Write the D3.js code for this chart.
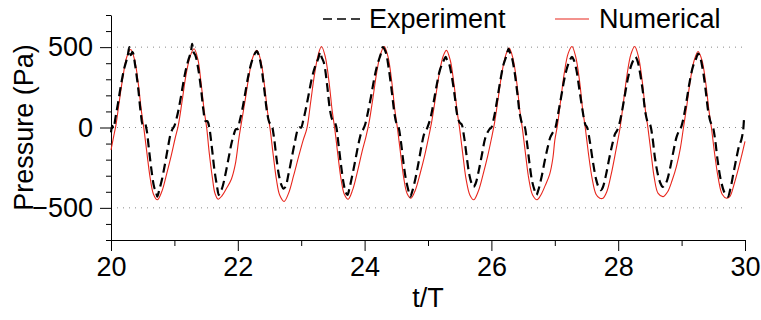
<!DOCTYPE html>
<html>
  <head>
    <meta charset="utf-8" />
    <script src="https://d3js.org/d3.v7.min.js"></script>
    <title>Pressure vs t/T</title>
    <style>
      body {
        margin: 0px;
        background: #fff;
      }
      .domain {
        stroke: #000;
      }
      .tick line {
        stroke: #000;
      }
      .tick text {
        fill: #000;
        font-size: 27px;
        font-family: Helvetica, Arial, "Liberation Sans", sans-serif;
      }
      .axis-label,
      .legend-text {
        fill: #000;
        font-size: 27px;
        font-family: Helvetica, Arial, "Liberation Sans", sans-serif;
      }
    </style>
  </head>
  <body>
    <svg width="761" height="320"></svg>
    <script>
      // numerical result, [t/T, pressure in Pa]
      const numerical = [
        [20.00,-140],[20.04,-60],[20.08,20],[20.13,160],[20.19,320],[20.25,440],[20.31,485],[20.37,425],[20.43,275],[20.48,100],[20.52,-10],[20.57,-170],[20.62,-320],[20.67,-415],[20.73,-450],[20.80,-400],[20.88,-285],[20.95,-175],
        [21.01,-70],[21.06,10],[21.12,160],[21.18,320],[21.25,445],[21.31,490],[21.37,425],[21.42,280],[21.47,105],[21.51,-5],[21.55,-160],[21.60,-315],[21.64,-410],[21.69,-446],[21.75,-425],[21.82,-380],[21.90,-320],[21.96,-230],
        [22.02,-60],[22.07,60],[22.12,180],[22.18,330],[22.24,440],[22.30,480],[22.36,420],[22.42,265],[22.47,95],[22.51,-10],[22.56,-175],[22.61,-325],[22.66,-420],[22.73,-460],[22.80,-410],[22.88,-300],[22.96,-180],
        [23.03,-80],[23.09,-5],[23.15,160],[23.21,330],[23.27,455],[23.32,504],[23.38,440],[23.44,280],[23.49,100],[23.53,-10],[23.58,-175],[23.63,-325],[23.68,-415],[23.74,-446],[23.81,-390],[23.89,-270],[23.96,-150],
        [24.02,-60],[24.07,30],[24.13,180],[24.19,340],[24.25,455],[24.31,504],[24.37,440],[24.43,280],[24.48,100],[24.52,-10],[24.57,-170],[24.62,-320],[24.67,-410],[24.73,-440],[24.80,-390],[24.88,-280],[24.95,-170],
        [25.01,-60],[25.06,40],[25.12,190],[25.18,340],[25.24,445],[25.29,480],[25.35,420],[25.41,270],[25.46,100],[25.50,-10],[25.55,-170],[25.60,-320],[25.66,-420],[25.72,-450],[25.79,-400],[25.87,-290],[25.94,-180],
        [26.00,-70],[26.05,30],[26.11,190],[26.17,350],[26.23,455],[26.28,494],[26.34,430],[26.40,280],[26.45,100],[26.49,-10],[26.54,-170],[26.59,-320],[26.65,-420],[26.72,-450],[26.78,-420],[26.85,-360],[26.92,-290],[26.97,-190],
        [27.00,-80],[27.04,10],[27.09,160],[27.15,340],[27.21,460],[27.27,504],[27.33,440],[27.39,290],[27.44,110],[27.48,0],[27.53,-160],[27.59,-320],[27.65,-415],[27.71,-440],[27.76,-440],[27.82,-400],[27.89,-290],[27.96,-150],
        [28.03,0],[28.08,150],[28.14,330],[28.20,455],[28.26,504],[28.32,440],[28.38,285],[28.43,105],[28.47,-5],[28.52,-165],[28.57,-315],[28.63,-410],[28.71,-430],[28.78,-400],[28.85,-330],[28.92,-240],[28.98,-130],
        [29.03,0],[29.08,130],[29.14,300],[29.20,420],[29.26,473],[29.32,420],[29.38,280],[29.43,110],[29.47,0],[29.52,-160],[29.58,-320],[29.64,-415],[29.71,-440],[29.76,-430],[29.83,-350],[29.90,-250],[29.95,-170],[30.00,-87]
      ];

      // measured pressure, [t/T, pressure in Pa]
      const experiment = [
        [20.00,-30],[20.02,10],[20.04,-5],[20.07,60],[20.11,150],[20.16,270],[20.21,370],[20.26,440],[20.29,500],[20.31,450],[20.34,470],[20.38,390],[20.43,240],[20.47,90],[20.50,20],[20.53,30],[20.56,-10],[20.60,-140],[20.64,-270],[20.68,-370],[20.71,-400],[20.73,-430],[20.76,-390],[20.80,-330],[20.85,-230],[20.90,-120],[20.94,-40],[20.97,-10],
        [21.00,10],[21.03,50],[21.07,120],[21.12,230],[21.17,340],[21.22,420],[21.26,470],[21.28,520],[21.30,470],[21.33,450],[21.37,380],[21.42,240],[21.46,100],[21.49,40],[21.52,40],[21.55,0],[21.59,-120],[21.63,-260],[21.67,-360],[21.70,-420],[21.72,-400],[21.75,-380],[21.80,-300],[21.85,-200],[21.90,-100],[21.94,-40],[21.97,-10],
        [22.00,-10],[22.03,40],[22.07,110],[22.12,220],[22.17,330],[22.22,410],[22.27,460],[22.30,475],[22.33,450],[22.37,380],[22.42,230],[22.46,100],[22.50,30],[22.53,20],[22.57,-60],[22.61,-190],[22.65,-300],[22.69,-360],[22.72,-380],[22.75,-370],[22.80,-290],[22.85,-190],[22.90,-90],[22.94,-20],[22.97,0],
        [23.00,0],[23.03,40],[23.07,110],[23.12,210],[23.17,310],[23.22,380],[23.27,430],[23.30,470],[23.32,440],[23.36,400],[23.41,260],[23.45,120],[23.49,50],[23.52,40],[23.55,10],[23.59,-110],[23.63,-240],[23.67,-350],[23.70,-400],[23.73,-420],[23.76,-380],[23.81,-290],[23.86,-190],[23.91,-90],[23.95,-30],[23.98,-10],
        [24.01,20],[24.05,90],[24.10,190],[24.15,300],[24.20,390],[24.25,450],[24.29,500],[24.31,490],[24.34,460],[24.38,370],[24.43,220],[24.47,90],[24.50,30],[24.53,10],[24.57,-80],[24.61,-210],[24.65,-320],[24.69,-390],[24.72,-430],[24.75,-400],[24.80,-320],[24.85,-220],[24.90,-110],[24.94,-40],[24.97,-20],
        [25.00,10],[25.04,60],[25.09,160],[25.14,270],[25.19,360],[25.24,410],[25.28,440],[25.30,420],[25.33,400],[25.37,330],[25.42,200],[25.46,80],[25.50,30],[25.53,20],[25.57,-60],[25.61,-180],[25.65,-290],[25.69,-350],[25.72,-370],[25.75,-350],[25.80,-270],[25.85,-170],[25.90,-70],[25.94,-30],[25.97,-10],
        [26.00,0],[26.04,60],[26.09,170],[26.14,290],[26.19,390],[26.24,450],[26.27,490],[26.29,470],[26.32,440],[26.36,360],[26.41,210],[26.45,80],[26.49,20],[26.52,10],[26.56,-90],[26.60,-220],[26.64,-330],[26.68,-390],[26.71,-420],[26.74,-390],[26.79,-310],[26.84,-210],[26.89,-120],[26.93,-60],[26.97,-30],
        [27.01,0],[27.05,80],[27.10,190],[27.15,300],[27.20,380],[27.24,420],[27.27,440],[27.30,420],[27.34,360],[27.39,230],[27.44,100],[27.48,20],[27.51,0],[27.55,-80],[27.60,-210],[27.65,-320],[27.69,-370],[27.73,-390],[27.76,-370],[27.81,-290],[27.86,-190],[27.91,-100],[27.95,-40],[27.98,-20],
        [28.01,10],[28.05,80],[28.10,190],[28.15,300],[28.20,380],[28.24,420],[28.27,440],[28.30,420],[28.34,350],[28.39,220],[28.43,90],[28.47,30],[28.50,20],[28.54,-60],[28.58,-190],[28.63,-300],[28.67,-350],[28.70,-370],[28.73,-360],[28.77,-330],[28.82,-250],[28.87,-150],[28.92,-60],[28.96,-20],[28.99,0],
        [29.03,60],[29.08,170],[29.13,290],[29.18,380],[29.23,430],[29.26,460],[29.29,440],[29.33,370],[29.38,230],[29.42,100],[29.46,30],[29.49,10],[29.53,-80],[29.57,-210],[29.62,-330],[29.67,-400],[29.70,-420],[29.73,-430],[29.77,-380],[29.82,-280],[29.87,-180],[29.91,-110],[29.94,-80],[29.97,-20],[29.99,60],[30.00,50]
      ];

      const xMajorTicks = [20, 22, 24, 26, 28, 30];
      const xMinorTicks = [21, 23, 25, 27, 29];
      const yMajorTicks = [-500, 0, 500];
      const yMinorTicks = [-700, -600, -400, -300, -200, -100, 100, 200, 300, 400, 600, 700];
      const gridValues = [-500, 0, 500];
      const legendItems = ["Experiment", "Numerical"];

      const xLabel = "t/T";
      const yLabel = "Pressure (Pa)";
      const margin = { left: 111, right: 16, top: 15, bottom: 80 };

      const svg = d3.select("svg");
      const width = +svg.attr("width");
      const height = +svg.attr("height");
      const innerWidth = width - margin.left - margin.right;
      const innerHeight = height - margin.top - margin.bottom;

      const g = svg
        .append("g")
        .attr("transform", `translate(${margin.left},${margin.top})`);

      const xScale = d3.scaleLinear().domain([20, 30]).range([0, innerWidth]);
      const yScale = d3.scaleLinear().domain([-700, 700]).range([innerHeight, 0]);

      // dotted grid at the major pressure values
      g.selectAll(".grid")
        .data(gridValues)
        .enter()
        .append("line")
        .attr("class", "grid")
        .attr("x1", 0)
        .attr("x2", innerWidth)
        .attr("y1", (d) => yScale(d))
        .attr("y2", (d) => yScale(d))
        .attr("stroke", "#8a8a8a")
        .attr("stroke-width", 1)
        .attr("stroke-dasharray", "1,5");

      // minor ticks (no labels)
      const xMinorG = g
        .append("g")
        .attr("transform", `translate(0, ${innerHeight})`)
        .call(d3.axisBottom(xScale).tickValues(xMinorTicks).tickSize(6));
      xMinorG.selectAll("text").remove();
      xMinorG.select(".domain").remove();

      const yMinorG = g
        .append("g")
        .call(d3.axisLeft(yScale).tickValues(yMinorTicks).tickSize(5));
      yMinorG.selectAll("text").remove();
      yMinorG.select(".domain").remove();

      const xAxisG = g
        .append("g")
        .attr("transform", `translate(0, ${innerHeight})`)
        .call(
          d3.axisBottom(xScale)
            .tickValues(xMajorTicks)
            .tickSize(11)
            .tickPadding(6)
            .tickSizeOuter(0)
            .tickFormat(d3.format("d"))
        );
      const yAxisG = g
        .append("g")
        .call(
          d3.axisLeft(yScale)
            .tickValues(yMajorTicks)
            .tickSize(11)
            .tickPadding(7)
            .tickSizeOuter(0)
            .tickFormat((d) => (d < 0 ? "\u2212" + Math.abs(d) : d))
        );

      xAxisG
        .append("text")
        .attr("class", "axis-label")
        .attr("x", innerWidth / 2)
        .attr("y", 67)
        .style("text-anchor", "middle")
        .text(xLabel);

      yAxisG
        .append("text")
        .attr("class", "axis-label")
        .attr("x", -innerHeight / 2)
        .attr("y", -78)
        .attr("transform", "rotate(-90)")
        .style("text-anchor", "middle")
        .text(yLabel);

      const line = d3
        .line()
        .x((d) => xScale(d[0]))
        .y((d) => yScale(d[1]))
        .curve(d3.curveCatmullRom.alpha(0.5));

      g.append("path")
        .datum(numerical)
        .attr("fill", "none")
        .attr("stroke", "#e8261c")
        .attr("stroke-width", 1.1)
        .attr("d", line);

      g.append("path")
        .datum(experiment)
        .attr("fill", "none")
        .attr("stroke", "#000")
        .attr("stroke-width", 2.2)
        .attr("stroke-dasharray", "9,5")
        .attr("d", line);

      // Handmade legend
      const legend = svg.append("g");
      legend
        .append("line")
        .attr("x1", 323)
        .attr("x2", 360)
        .attr("y1", 19)
        .attr("y2", 19)
        .attr("stroke", "#000")
        .attr("stroke-width", 1.6)
        .attr("stroke-dasharray", "9,5");
      legend
        .append("text")
        .attr("class", "legend-text")
        .attr("x", 369)
        .attr("y", 28)
        .text(legendItems[0]);
      legend
        .append("line")
        .attr("x1", 555)
        .attr("x2", 589)
        .attr("y1", 19)
        .attr("y2", 19)
        .attr("stroke", "#e8261c")
        .attr("stroke-width", 1.1);
      legend
        .append("text")
        .attr("class", "legend-text")
        .attr("x", 599)
        .attr("y", 28)
        .text(legendItems[1]);
    </script>
  </body>
</html>
